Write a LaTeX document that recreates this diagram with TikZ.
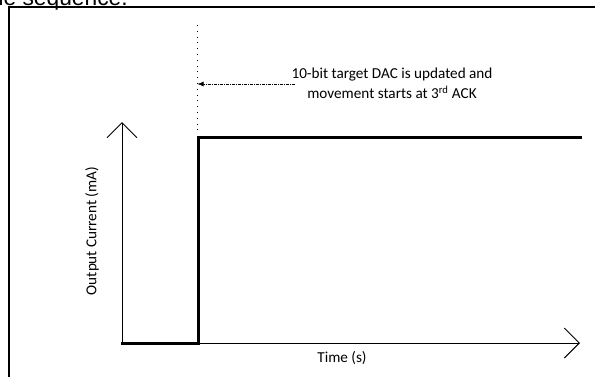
\documentclass[tikz,border=0pt]{standalone}
\usepackage{fontspec}
\setmainfont{Carlito}
\newfontfamily\bodyfont{Liberation Sans}
\usetikzlibrary{arrows.meta}

\begin{document}
\begin{tikzpicture}[x=1pt,y=-1pt,
    axis/.style={line width=0.9pt,-{Straight Barb[length=15pt,width=30pt,line width=0.9pt]}},
    signal/.style={line width=3pt,line cap=rect},
    label/.style={font=\fontsize{15.2}{20}\selectfont,inner sep=2pt}]
\useasboundingbox (0,0) rectangle (595,376);
% surrounding text and frame
\node[anchor=base east,inner sep=0pt,font=\bodyfont\fontsize{22.8}{26}\selectfont] (body) at (128,5) {the sequence.};
\draw[line width=2pt] (9,380) -- (9,6.5) -- (600,6.5);
% axes
\coordinate (origin) at (122,343);
\coordinate (ytip) at (122,122);
\coordinate (xtip) at (580,343);
\draw[axis] (origin) -- (ytip);
\draw[axis] (origin) -- (xtip);
\node[label] (ylabel) at (92,231) [rotate=90] {Output Current (mA)};
\node[label] (xlabel) at (342,358) {Time (s)};
% step
\draw[signal] (origin) -- (198,343) -- (198,137.5) -- (580,137.5);
\draw[line width=0.7pt,dash pattern=on 1pt off 4.8pt] (197.5,25) -- (197.5,134);
% note
\node[label,align=center] (note) at (392,83) {10-bit target DAC is updated and\\movement starts at 3\textsuperscript{rd} ACK};
\coordinate (ack) at (197.5,84);
\draw[line width=0.6pt,dash pattern=on 3pt off 1pt on 1pt off 1pt,-{Latex[length=6pt,width=5pt]}] (note.west) ++(6,1) -- (ack);
\end{tikzpicture}
\end{document}
